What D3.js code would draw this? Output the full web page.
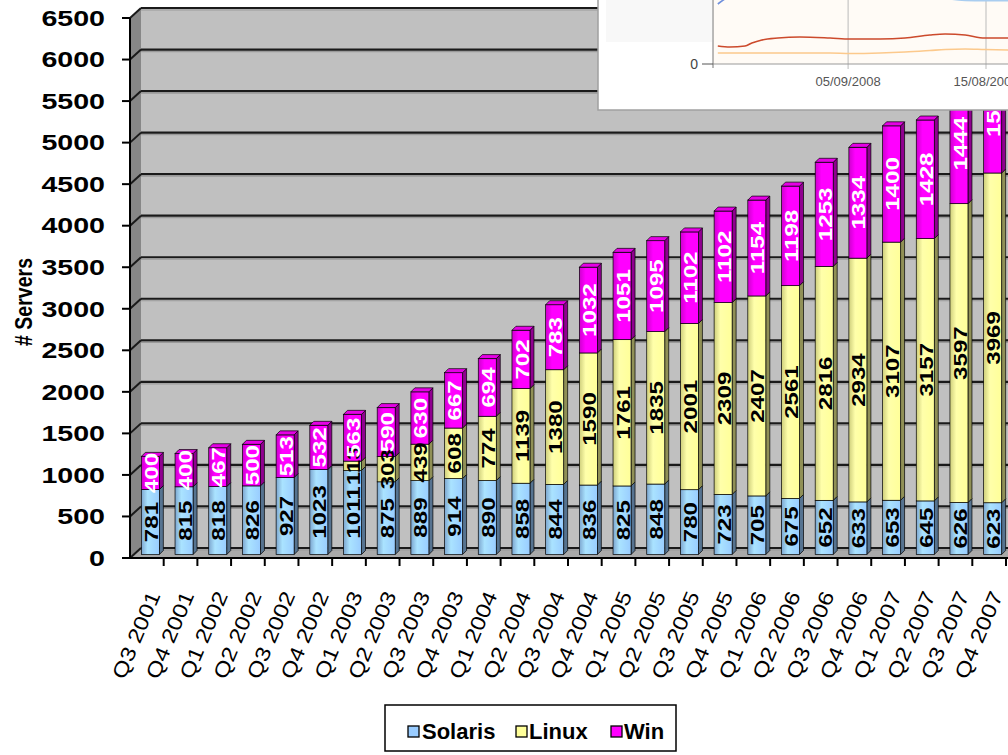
<!DOCTYPE html>
<html>
<head>
<meta charset="utf-8">
<script src="https://cdn.jsdelivr.net/npm/d3@7"></script>
<style>
  body { margin: 0; background: #fff; }
  text { font-family: "Liberation Sans", Arial, sans-serif; }
</style>
</head>
<body>
<script>
  // servers per quarter
  const quarters = ["Q3 2001", "Q4 2001", "Q1 2002", "Q2 2002", "Q3 2002", "Q4 2002",
    "Q1 2003", "Q2 2003", "Q3 2003", "Q4 2003", "Q1 2004", "Q2 2004", "Q3 2004", "Q4 2004",
    "Q1 2005", "Q2 2005", "Q3 2005", "Q4 2005", "Q1 2006", "Q2 2006", "Q3 2006", "Q4 2006",
    "Q1 2007", "Q2 2007", "Q3 2007", "Q4 2007"];
  const solaris = [781, 815, 818, 826, 927, 1023, 1011, 875, 889, 914, 890, 858, 844, 836,
    825, 848, 780, 723, 705, 675, 652, 633, 653, 645, 626, 623];
  const linux = [0, 0, 0, 0, 0, 0, 113, 303, 439, 608, 774, 1139, 1380, 1590,
    1761, 1835, 2001, 2309, 2407, 2561, 2816, 2934, 3107, 3157, 3597, 3969];
  const win = [400, 400, 467, 500, 513, 532, 563, 590, 630, 667, 694, 702, 783, 1032,
    1051, 1095, 1102, 1102, 1154, 1198, 1253, 1334, 1400, 1428, 1444, 1510];
  const yTicks = d3.range(0, 6501, 500);

  // the pasted line chart in the top right corner
  const insetDates = ["2007-10-16", "2007-11-15", "2007-12-23", "2008-01-09", "2008-02-03",
    "2008-03-14", "2008-05-08", "2008-07-22", "2008-09-10", "2008-11-24", "2009-01-25",
    "2009-03-28", "2009-05-05", "2009-06-24", "2009-08-12", "2009-10-09"];
  const insetRed = [180, 170, 180, 210, 240, 260, 270, 260, 250, 250, 260, 290, 300, 290, 260, 260];
  const insetOrange = [110, 110, 110, 110, 110, 110, 110, 110, 105, 110, 120, 135, 145, 150, 145, 140];
  const insetBlue = [600, 680, 720, 740, 760, 760, 760, 760, 760, 760, 740, 720, 700, 680, 680, 680];
  const insetLightBlue = [700, 700, 700, 700, 700, 700, 700, 700, 700, 700, 700, 700, 660, 636, 632, 632];
  const insetTicks = ["2008-09-05", "2009-08-15"];

  const keys = ["Solaris", "Linux", "Win"];
  const colors = { Solaris: "#99ccff", Linux: "#ffff99", Win: "#ff00ff" };
  const labelColors = { Solaris: "#000", Linux: "#000", Win: "#fff" };

  const width = 1008, height = 755;
  const svg = d3.select("body").append("svg")
    .attr("width", width).attr("height", height);

  const x = d3.scaleBand().domain(quarters).range([130, 1006]);
  const y = d3.scaleLinear().domain([0, 6500]).range([558, 18]);
  const D = 11;            // wall depth
  const bd = 4;            // bar depth
  const off = (D - bd) / 2;
  const bw = 18;

  // gradients for the round-ish bars
  const defs = svg.append("defs");
  keys.forEach(k => {
    const c = d3.color(colors[k]);
    const g = defs.append("linearGradient").attr("id", "g" + k)
      .attr("x1", 0).attr("x2", 1).attr("y1", 0).attr("y2", 0);
    g.append("stop").attr("offset", 0).attr("stop-color", c.darker(0.6));
    g.append("stop").attr("offset", 0.35).attr("stop-color", c.brighter(0.3));
    g.append("stop").attr("offset", 1).attr("stop-color", c);
  });

  // walls
  const x0 = 130, x1 = 1008;
  svg.append("polygon")
    .attr("points", [[x0 + D, y(6500) - D + 1], [x1, y(6500) - D + 1], [x1, y(0) - D + 1], [x0 + D, y(0) - D + 1]].join(" "))
    .attr("fill", "#c0c0c0");
  svg.append("polygon")
    .attr("points", [[x0, y(6500)], [x0 + D, y(6500) - D + 1], [x0 + D, y(0) - D + 1], [x0, y(0)]].join(" "))
    .attr("fill", "#878787");
  svg.append("polygon")
    .attr("points", [[x0, y(0)], [x0 + D, y(0) - D + 1], [x1, y(0) - D + 1], [x1, y(0)]].join(" "))
    .attr("fill", "#a9a9a9");

  // gridlines on the walls
  const grid = svg.append("g");
  yTicks.forEach(v => {
    grid.append("line")
      .attr("x1", x0 + D).attr("x2", x1)
      .attr("y1", y(v) - D + 1).attr("y2", y(v) - D + 1)
      .attr("stroke", "#1a1a1a").attr("stroke-width", 2.2);
    grid.append("line")
      .attr("x1", x0 + D).attr("x2", x1)
      .attr("y1", y(v) - D + 3).attr("y2", y(v) - D + 3)
      .attr("stroke", "#9a9a9a").attr("stroke-width", 1.2);
    grid.append("line")
      .attr("x1", x0).attr("x2", x0 + D)
      .attr("y1", y(v)).attr("y2", y(v) - D + 1)
      .attr("stroke", "#1a1a1a").attr("stroke-width", 2);
  });

  // stacked bars
  const table = quarters.map((q, i) => ({ q: q, Solaris: solaris[i], Linux: linux[i], Win: win[i] }));
  const series = d3.stack().keys(keys)(table);

  const bars = svg.append("g");
  const labels = svg.append("g");
  series.forEach((s, si) => {
    s.forEach(d => {
      if (d[1] - d[0] <= 0) return;
      const bx = x(d.data.q) + x.bandwidth() / 2 + off - bw / 2;
      const yt = y(d[1]) - off, yb = y(d[0]) - off;
      const c = d3.color(colors[s.key]);
      bars.append("polygon")
        .attr("points", [[bx + bw, yt], [bx + bw + bd, yt - bd], [bx + bw + bd, yb - bd], [bx + bw, yb]].join(" "))
        .attr("fill", c.darker(1.6)).attr("stroke", "#000").attr("stroke-width", 0.7);
      bars.append("rect")
        .attr("x", bx).attr("y", yt).attr("width", bw).attr("height", yb - yt)
        .attr("fill", "url(#g" + s.key + ")").attr("stroke", "#000").attr("stroke-width", 0.7);
      if (si === keys.length - 1) {
        bars.append("polygon")
          .attr("points", [[bx, yt], [bx + bd, yt - bd], [bx + bw + bd, yt - bd], [bx + bw, yt]].join(" "))
          .attr("fill", c.darker(0.3)).attr("stroke", "#000").attr("stroke-width", 0.7);
      }
      labels.append("text")
        .attr("transform", `translate(${bx + bw / 2 + 1},${(yt + yb) / 2}) rotate(-90) scale(1.27,1)`)
        .attr("text-anchor", "middle").attr("dominant-baseline", "central")
        .attr("font-size", 19).attr("font-weight", "bold")
        .attr("fill", labelColors[s.key])
        .text(d[1] - d[0]);
    });
  });

  // axes
  const ax = svg.append("g");
  ax.append("line").attr("x1", x0).attr("x2", x0).attr("y1", y(6500)).attr("y2", y(0))
    .attr("stroke", "#000").attr("stroke-width", 2);
  ax.append("line").attr("x1", x0).attr("x2", x1).attr("y1", y(0)).attr("y2", y(0))
    .attr("stroke", "#000").attr("stroke-width", 2);
  yTicks.forEach(v => {
    ax.append("line").attr("x1", x0 - 8).attr("x2", x0).attr("y1", y(v)).attr("y2", y(v))
      .attr("stroke", "#000").attr("stroke-width", 2);
    ax.append("text")
      .attr("transform", `translate(105,${y(v)}) scale(1.3,1)`)
      .attr("text-anchor", "end").attr("dominant-baseline", "central")
      .attr("font-size", 22).attr("font-weight", "bold")
      .text(v);
  });
  quarters.forEach((q, i) => {
    const tx = x(q) + x.bandwidth();
    ax.append("line").attr("x1", tx).attr("x2", tx).attr("y1", y(0)).attr("y2", y(0) + 8)
      .attr("stroke", "#000").attr("stroke-width", 2);
    ax.append("text")
      .attr("transform", `translate(${x(q) + x.bandwidth() / 2 + 14},595) rotate(-67) scale(1.18,1)`)
      .attr("text-anchor", "end")
      .attr("font-size", 20.5)
      .text(q);
  });
  ax.append("text")
    .attr("transform", `translate(32,302) rotate(-90) scale(0.85,1)`)
    .attr("text-anchor", "middle")
    .attr("font-size", 23).attr("font-weight", "bold")
    .text("# Servers");

  // legend
  const lg = svg.append("g");
  lg.append("rect").attr("x", 385).attr("y", 705).attr("width", 291).attr("height", 46)
    .attr("fill", "#fff").attr("stroke", "#000").attr("stroke-width", 1.5);
  const legendPos = [{ k: "Solaris", sx: 408, tx: 422 }, { k: "Linux", sx: 516, tx: 529 }, { k: "Win", sx: 611, tx: 624 }];
  legendPos.forEach(p => {
    lg.append("rect").attr("x", p.sx).attr("y", 726).attr("width", 11).attr("height", 11)
      .attr("fill", colors[p.k]).attr("stroke", "#000").attr("stroke-width", 1.3);
    lg.append("text").attr("x", p.tx).attr("y", 739)
      .attr("font-size", 22).attr("font-weight", "bold").text(p.k);
  });

  // inset picture
  const ins = svg.append("g");
  ins.append("rect").attr("x", 598).attr("y", -2).attr("width", 420).attr("height", 112)
    .attr("fill", "#fff").attr("stroke", "#a0a0a0").attr("stroke-width", 1.5);
  ins.append("rect").attr("x", 606).attr("y", 0).attr("width", 106).attr("height", 42)
    .attr("fill", "#f8f8f8");
  ins.append("rect").attr("x", 713).attr("y", 0).attr("width", 295).attr("height", 64)
    .attr("fill", "#fffbf6");
  const ix = d3.scaleTime()
    .domain([new Date("2007-10-04"), new Date("2009-08-15")]).range([713, 986]);
  const iy = d3.scaleLinear().domain([0, 640]).range([64, 0]);
  insetTicks.forEach(t => {
    const tx = ix(new Date(t));
    ins.append("line").attr("x1", tx).attr("x2", tx).attr("y1", 0).attr("y2", 69)
      .attr("stroke", "#bbb").attr("stroke-width", 1);
    ins.append("text").attr("x", tx).attr("y", 86).attr("text-anchor", "middle")
      .attr("font-size", 13).attr("fill", "#555")
      .text(d3.timeFormat("%d/%m/%Y")(new Date(t)));
  });
  ins.append("clipPath").attr("id", "insClip").append("rect")
    .attr("x", 713).attr("y", 0).attr("width", 295).attr("height", 64);
  const line = d3.line()
    .x((d, i) => ix(new Date(insetDates[i])))
    .y(d => iy(d))
    .curve(d3.curveMonotoneX);
  [[insetOrange, "#fcc98c"], [insetRed, "#cc4a2c"], [insetBlue, "#6f8fdc"], [insetLightBlue, "#a9cdf0"]]
    .forEach(([vals, col]) => {
      ins.append("path").attr("d", line(vals)).attr("fill", "none")
        .attr("stroke", col).attr("stroke-width", 1.6).attr("clip-path", "url(#insClip)");
    });
  ins.append("line").attr("x1", 713).attr("x2", 1008).attr("y1", 64).attr("y2", 64)
    .attr("stroke", "#999").attr("stroke-width", 1);
  ins.append("line").attr("x1", 713).attr("x2", 713).attr("y1", 0).attr("y2", 68)
    .attr("stroke", "#777").attr("stroke-width", 1);
  ins.append("line").attr("x1", 702).attr("x2", 713).attr("y1", 64).attr("y2", 64)
    .attr("stroke", "#555").attr("stroke-width", 1);
  ins.append("text").attr("x", 698).attr("y", 64).attr("text-anchor", "end")
    .attr("dominant-baseline", "central").attr("font-size", 14).attr("fill", "#444").text("0");
</script>
</body>
</html>
